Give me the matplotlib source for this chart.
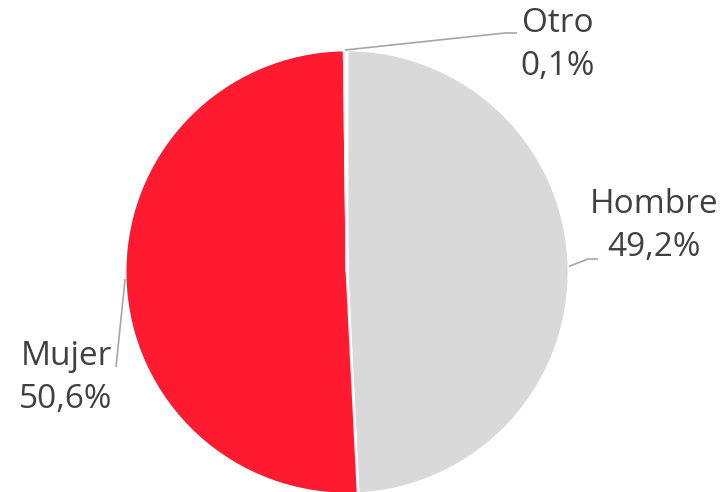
import numpy as np
import matplotlib
matplotlib.use("Agg")
import matplotlib.pyplot as plt

# data
labels = ["Hombre", "Mujer", "Otro"]
values = [49.2, 50.6, 0.1]
pct_text = ["49,2%", "50,6%", "0,1%"]
colors = ["#D9D9D9", "#FF1A2F", "#BFBFBF"]

W, H = 725, 492
fig = plt.figure(figsize=(W / 100, H / 100), dpi=100)
ax = fig.add_axes([0, 0, 1, 1])

cx, cy, r = 347, H - 272, 222
# shares are out of 100 and sum to 99.9, so keep the small gap as in the source
wedges, _ = ax.pie([v / 100 for v in values], colors=colors, startangle=90,
                   counterclock=False, center=(cx, cy), radius=r, normalize=False,
                   wedgeprops=dict(edgecolor="white", linewidth=2))
ax.set_xlim(0, W)
ax.set_ylim(0, H)
ax.set_aspect("equal")
ax.axis("off")

# label layout (pixel coords, y from top): text centre, leader bend/end points
layout = {
    "Hombre": dict(text=(654, 226), path=[(588, 259), (598, 259)]),
    "Mujer": dict(text=(66, 378), path=[(116, 367)]),
    "Otro": dict(text=(558, 45), path=[(505, 33), (517, 33)]),
}

for w, lab, pct in zip(wedges, labels, pct_text):
    ang = np.deg2rad((w.theta1 + w.theta2) / 2)
    x0, y0 = cx + r * np.cos(ang), cy + r * np.sin(ang)
    pts = [(x0, y0)] + [(x, H - y) for x, y in layout[lab]["path"]]
    xs, ys = zip(*pts)
    ax.plot(xs, ys, color="#A6A6A6", lw=1.2, solid_capstyle="butt")
    tx, ty = layout[lab]["text"]
    ax.text(tx, H - ty, f"{lab}\n{pct}", ha="center", va="center",
            fontsize=24, color="#404040", family="Open Sans", linespacing=1.42)

fig.savefig("out.png", dpi=100)
